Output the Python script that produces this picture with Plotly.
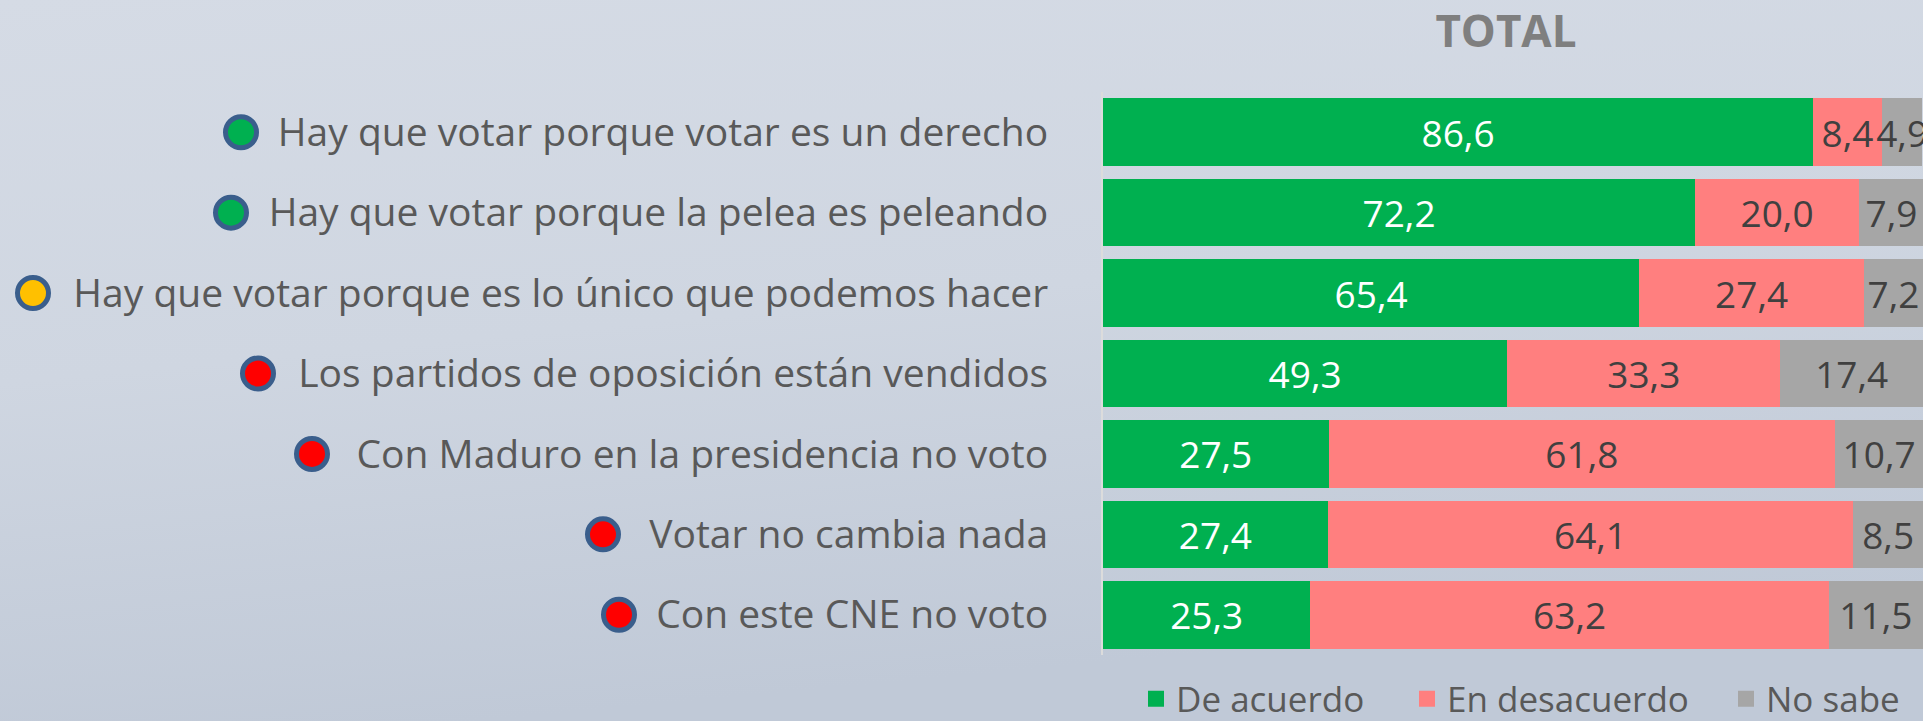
import base64
import plotly.graph_objects as go

W, H = 1923, 721

# ---------------- data ----------------
categories = [
    "Hay que votar porque votar es un derecho",
    "Hay que votar porque la pelea es peleando",
    "Hay que votar porque es lo único que podemos hacer",
    "Los partidos de oposición están vendidos",
    "Con Maduro en la presidencia no voto",
    "Votar no cambia nada",
    "Con este CNE no voto",
]
de_acuerdo = [86.6, 72.2, 65.4, 49.3, 27.5, 27.4, 25.3]
en_desacuerdo = [8.4, 20.0, 27.4, 33.3, 61.8, 64.1, 63.2]
no_sabe = [4.9, 7.9, 7.2, 17.4, 10.7, 8.5, 11.5]
series_names = ["De acuerdo", "En desacuerdo", "No sabe"]
category_flag = ["green", "green", "yellow", "red", "red", "red", "red"]
title_text = "TOTAL"

# ---------------- styling / layout constants ----------------
FONT = "Open Sans"
colors = {"De acuerdo": "#00B050", "En desacuerdo": "#FF7F7F", "No sabe": "#A6A6A6"}
text_colors = {"De acuerdo": "#FFFFFF", "En desacuerdo": "#404040", "No sabe": "#404040"}
flag_colors = {"green": "#00B050", "yellow": "#FFC000", "red": "#FF0000"}
flag_ring = "#3A5E8C"
flag_x_px = [241, 231, 33, 258, 312, 603, 619]   # horizontal pixel centres of the bullets

plot_left, plot_top, plot_bottom = 1103, 92, 655
legend_left_px = [1148, 1419, 1738]
legend_center_y = 699

# background gradient (svg data uri)
svg = f"""<svg xmlns='http://www.w3.org/2000/svg' width='{W}' height='{H}' viewBox='0 0 {W} {H}' preserveAspectRatio='none'>
<defs><linearGradient id='g' x1='0' y1='0' x2='0.25' y2='1'>
<stop offset='0' stop-color='#D5DBE5'/><stop offset='0.5' stop-color='#CFD6E1'/><stop offset='1' stop-color='#C0C9D7'/>
</linearGradient></defs>
<rect width='{W}' height='{H}' fill='url(#g)'/>
</svg>"""
bg_uri = "data:image/svg+xml;base64," + base64.b64encode(svg.encode()).decode()

fig = go.Figure()

for name, vals in zip(series_names, [de_acuerdo, en_desacuerdo, no_sabe]):
    fig.add_trace(go.Bar(
        y=categories, x=vals, orientation="h", name=name,
        marker=dict(color=colors[name], line=dict(width=0)),
        texttemplate="%{x:.1f}", textposition="inside", insidetextanchor="middle",
        textangle=0, constraintext="none",
        textfont=dict(family=FONT, size=37, color=text_colors[name]),
        showlegend=False, hoverinfo="x+y",
    ))

# bullets next to each statement
fig.add_trace(go.Scatter(
    x=flag_x_px, y=categories, xaxis="x2", yaxis="y", mode="markers",
    marker=dict(size=31, color=[flag_colors[c] for c in category_flag],
                line=dict(color=flag_ring, width=5)),
    showlegend=False, hoverinfo="skip", cliponaxis=False,
))

# legend entries (one legend each so they can be spaced like the original)
legend_ids = ["legend", "legend2", "legend3"]
for name, lid in zip(series_names, legend_ids):
    fig.add_trace(go.Scatter(
        x=[None], y=[None], mode="markers", name=name, legend=lid,
        marker=dict(symbol="square", size=22, color=colors[name]),
        showlegend=True, hoverinfo="skip",
    ))

legend_common = dict(
    orientation="h", yanchor="middle", xanchor="left",
    font=dict(family=FONT, size=35, color="#595959"),
    bgcolor="rgba(0,0,0,0)", borderwidth=0,
)
legends = {}
for lid, px in zip(legend_ids, legend_left_px):
    legends[lid] = dict(legend_common, x=(px - 12) / W, y=1 - legend_center_y / H)

fig.update_layout(
    width=W, height=H,
    margin=dict(l=0, r=0, t=0, b=0, autoexpand=False),
    paper_bgcolor="#CED5E0", plot_bgcolor="rgba(0,0,0,0)",
    barmode="stack", bargap=0.16,
    separators=",.",
    font=dict(family=FONT, color="#595959"),
    title=dict(text=title_text, x=1506 / W, xref="paper",
               y=1 - 32 / H, yref="container", yanchor="middle", xanchor="center",
               font=dict(family=FONT, size=44, color="#7F7F7F", weight="bold")),
    xaxis=dict(domain=[plot_left / W, 1], range=[0, 100], visible=False, fixedrange=True),
    xaxis2=dict(domain=[0, plot_left / W], range=[0, plot_left], visible=False,
                anchor="y", fixedrange=True),
    yaxis=dict(domain=[1 - plot_bottom / H, 1 - plot_top / H],
               categoryorder="array", categoryarray=categories,
               range=[6.5, -0.5], showgrid=False, zeroline=False,
               showline=True, linecolor="#DCDCDC", linewidth=2,
               ticks="", ticklabelstandoff=45,
               tickfont=dict(family=FONT, size=39, color="#595959"),
               fixedrange=True),
    images=[dict(source=bg_uri, xref="paper", yref="paper", x=0, y=1,
                 sizex=1, sizey=1, sizing="stretch", layer="below", xanchor="left", yanchor="top")],
    showlegend=True,
    **legends,
)

fig.write_html(
    "out.html",
    config={"displayModeBar": False},
    post_script="document.body.style.margin='0';document.body.style.padding='0';"
                "document.body.style.overflow='hidden';",
)
